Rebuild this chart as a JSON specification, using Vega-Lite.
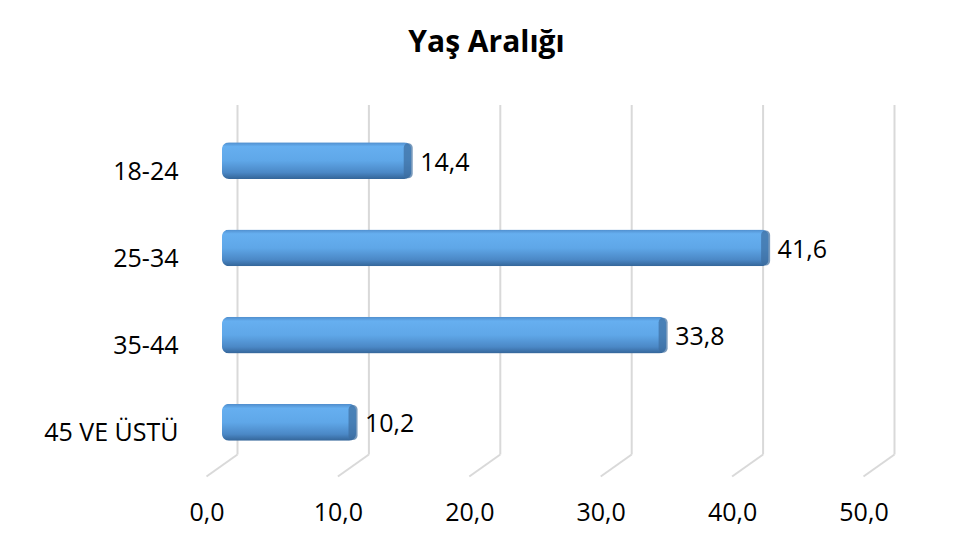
{
  "$schema": "https://vega.github.io/schema/vega-lite/v6.json",
  "autosize": {"type": "none"},
  "width": 657,
  "height": 349,
  "padding": {"left": 222, "top": 117, "right": 89, "bottom": 88},
  "background": "white",
  "config": {
    "locale": {"number": {"decimal": ",", "thousands": ".", "grouping": [3], "currency": ["", " TL"]}},
    "view": {"stroke": null},
    "font": "Open Sans"
  },
  "title": {
    "text": "Yaş Aralığı",
    "fontSize": 30,
    "fontWeight": "bold",
    "font": "Open Sans",
    "color": "#000000",
    "anchor": "middle",
    "dx": -64,
    "offset": 22,
    "baseline": "alphabetic"
  },
  "data": {
    "values": [
      {"age": "18-24", "pct": 14.4},
      {"age": "25-34", "pct": 41.6},
      {"age": "35-44", "pct": 33.8},
      {"age": "45 VE ÜSTÜ", "pct": 10.2}
    ]
  },
  "layer": [
    {
      "data": {"values": [{"v": 0}, {"v": 10}, {"v": 20}, {"v": 30}, {"v": 40}, {"v": 50}]},
      "mark": {"type": "rule", "color": "#d9d9d9", "strokeWidth": 2, "xOffset": 15.5, "yOffset": -12, "y2Offset": -11.5},
      "encoding": {
        "x": {"field": "v", "type": "quantitative", "scale": {"domain": [0, 50], "nice": false}, "axis": {"title": null, "grid": false, "ticks": false, "tickSize": 0, "domain": false, "values": [0, 10, 20, 30, 40, 50], "format": ".1f", "labelFontSize": 25, "labelColor": "#000000", "labelOffset": -15.5, "labelPadding": 54, "labelBaseline": "alphabetic", "labelFlush": false}},
        "y": {"value": 0},
        "y2": {"value": "height"}
      }
    },
    {
      "data": {"values": [{"v": 0}, {"v": 10}, {"v": 20}, {"v": 30}, {"v": 40}, {"v": 50}]},
      "mark": {"type": "rule", "color": "#d9d9d9", "strokeWidth": 2, "xOffset": 15.5, "x2Offset": -15.5, "yOffset": -11.5, "y2Offset": 10.5},
      "encoding": {
        "x": {"field": "v", "type": "quantitative"},
        "x2": {"field": "v"},
        "y": {"value": "height"},
        "y2": {"value": "height"}
      }
    },
    {
      "mark": {
        "type": "bar",
        "cornerRadius": 7,
        "x2Offset": -4,
        "color": {
          "gradient": "linear", "x1": 0, "y1": 0, "x2": 0, "y2": 1,
          "stops": [
            {"offset": 0, "color": "#4f8ccb"},
            {"offset": 0.12, "color": "#66aff0"},
            {"offset": 0.5, "color": "#5fa7e8"},
            {"offset": 0.82, "color": "#4b88c6"},
            {"offset": 1, "color": "#336497"}
          ]
        }
      },
      "encoding": {
        "y": {"field": "age", "type": "nominal", "sort": null, "scale": {"paddingInner": 0.576, "paddingOuter": 0.288}, "axis": {"title": null, "ticks": false, "domain": false, "labelFontSize": 25, "labelColor": "#000000", "labelPadding": 44, "labelOffset": 11}},
        "x": {"field": "pct", "type": "quantitative"}
      }
    },
    {
      "mark": {"type": "tick", "orient": "vertical", "thickness": 9, "size": 35, "color": "#3d6e9f", "cornerRadius": 4.5, "xOffset": -3},
      "encoding": {
        "y": {"field": "age", "type": "nominal", "sort": null},
        "x": {"field": "pct", "type": "quantitative"}
      }
    },
    {
      "mark": {"type": "text", "align": "left", "baseline": "middle", "dx": 9, "dy": 2, "fontSize": 25, "color": "#000000"},
      "encoding": {
        "y": {"field": "age", "type": "nominal", "sort": null},
        "x": {"field": "pct", "type": "quantitative"},
        "text": {"field": "pct", "type": "quantitative", "format": ".1f"}
      }
    }
  ]
}
